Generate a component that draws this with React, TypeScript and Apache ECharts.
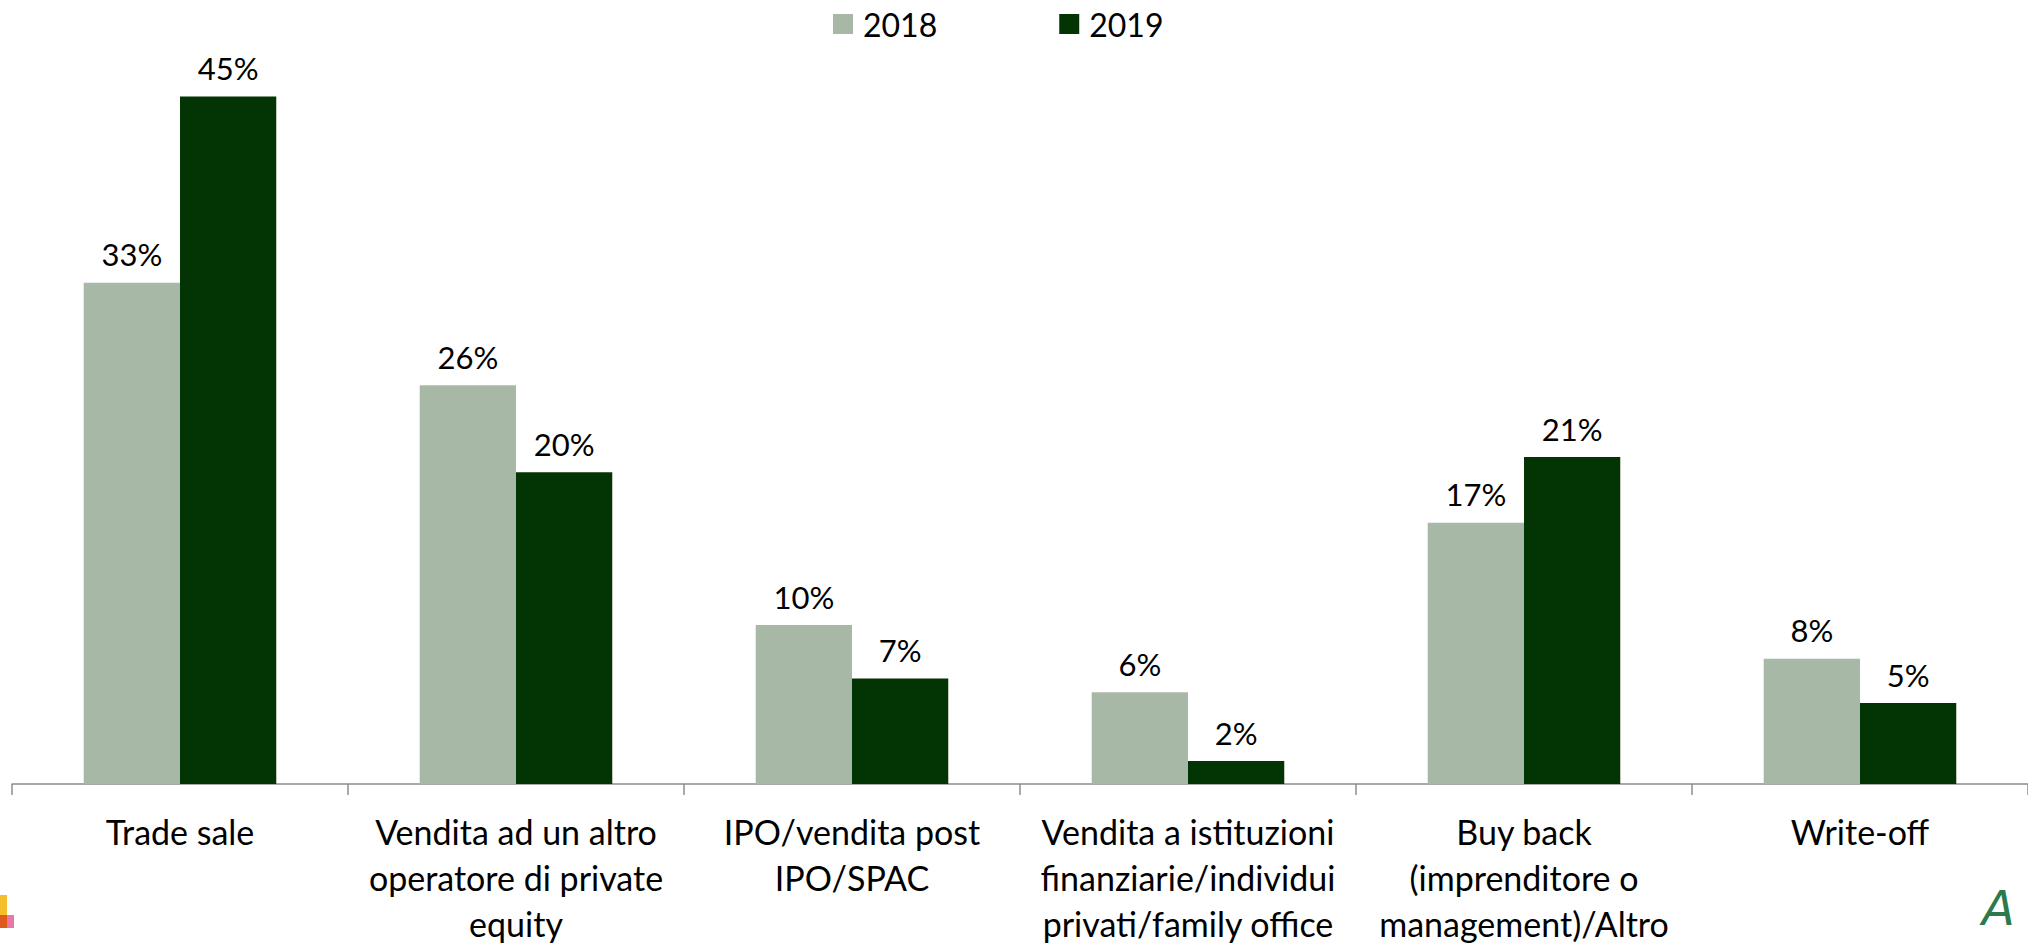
import React, { useEffect, useRef } from "react";
import * as echarts from "echarts";

const categories = [
  "Trade sale",
  "Vendita ad un altro\noperatore di private\nequity",
  "IPO/vendita post\nIPO/SPAC",
  "Vendita a istituzioni\nfinanziarie/individui\nprivati/family office",
  "Buy back\n(imprenditore o\nmanagement)/Altro",
  "Write-off",
];
const series2018 = [32.8, 26.1, 10.4, 6.0, 17.1, 8.2];
const series2019 = [45.0, 20.4, 6.9, 1.5, 21.4, 5.3];
const seriesNames = ["2018", "2019"];
const colors = ["#a8b8a6", "#033403"];

const FONT = "Lato, 'Open Sans', sans-serif";

export default function App() {
  const ref = useRef<HTMLDivElement>(null);
  useEffect(() => {
    if (!ref.current) return;
    const chart = echarts.init(ref.current, undefined, { renderer: "svg" });
    const labelCfg = {
      show: true,
      position: "top",
      distance: 13,
      fontFamily: FONT,
      fontSize: 31,
      color: "#000",
      formatter: (p: any) => Math.round(p.value) + "%",
    };
    chart.setOption({
      animation: false,
      backgroundColor: "#fff",
      textStyle: { fontFamily: FONT },
      legend: {
        left: 828,
        top: 3,
        itemWidth: 20,
        itemHeight: 20,
        itemGap: 122,
        icon: "rect",
        textStyle: { fontFamily: FONT, fontSize: 32, color: "#000", padding: [0, 0, 0, 5] },
        data: seriesNames,
      },
      grid: { left: 12, right: 0, top: 20, bottom: 160, containLabel: false },
      xAxis: {
        type: "category",
        data: categories,
        axisLine: { show: true, lineStyle: { color: "#8c8c8c", width: 1.5 } },
        axisTick: { show: true, length: 11, lineStyle: { color: "#8c8c8c", width: 1.5 } },
        axisLabel: {
          interval: 0,
          margin: 24,
          fontFamily: FONT,
          fontSize: 34,
          lineHeight: 46,
          color: "#000",
          align: "center",
        },
      },
      yAxis: {
        type: "value",
        min: 0,
        max: 50,
        show: false,
        splitLine: { show: false },
      },
      series: [
        {
          name: seriesNames[0],
          type: "bar",
          data: series2018,
          itemStyle: { color: colors[0] },
          barGap: "0%",
          barCategoryGap: "42.7%",
          label: labelCfg,
        },
        {
          name: seriesNames[1],
          type: "bar",
          data: series2019,
          itemStyle: { color: colors[1] },
          barGap: "0%",
          barCategoryGap: "42.7%",
          label: labelCfg,
        },
      ],
      graphic: [
        { type: "rect", shape: { x: 0, y: 895, width: 7, height: 20 }, style: { fill: "#f4bf2a" } },
        { type: "rect", shape: { x: 0, y: 915, width: 7, height: 13 }, style: { fill: "#e05a1e" } },
        { type: "rect", shape: { x: 7, y: 915, width: 7, height: 13 }, style: { fill: "#e878a8" } },
        {
          type: "text",
          x: 1982,
          y: 884,
          style: {
            text: "A",
            fontSize: 48,
            fontFamily: "'DejaVu Sans', sans-serif",
            fontStyle: "italic",
            fontWeight: "normal",
            fill: "#2b7a4b",
          },
        },
      ],
    });
    return () => chart.dispose();
  }, []);
  return (
    <div
      ref={ref}
      style={{ position: "absolute", left: 0, top: 0, width: 2028, height: 946 }}
    />
  );
}
